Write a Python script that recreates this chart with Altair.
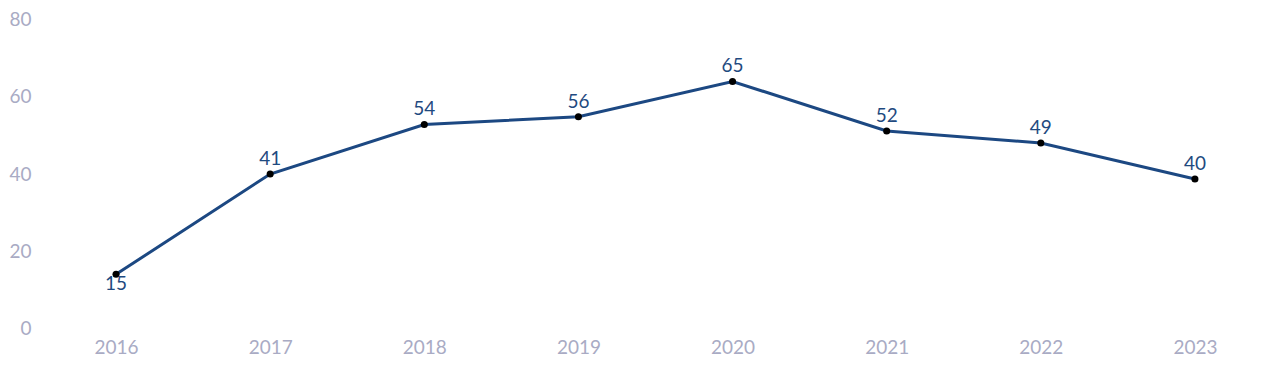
import altair as alt
import pandas as pd

years = ["2016", "2017", "2018", "2019", "2020", "2021", "2022", "2023"]
values = [14.1, 40.0, 52.8, 54.8, 63.9, 51.1, 48.0, 38.7]
labels = ["15", "41", "54", "56", "65", "52", "49", "40"]
below = [True, False, False, False, False, False, False, False]

df = pd.DataFrame({"year": years, "value": values, "label": labels, "below": below})

FONT = "Lato"
x = alt.X("year:O", title=None, sort=years,
          scale=alt.Scale(paddingOuter=0.5, paddingInner=0),
          axis=alt.Axis(labelAngle=0, domain=False, ticks=False, grid=False,
                        labelColor="#a9abc4", labelFontSize=19, labelFont=FONT,
                        labelPadding=10))
y = alt.Y("value:Q", title=None, scale=alt.Scale(domain=[0, 80], nice=False),
          axis=alt.Axis(values=[0, 20, 40, 60, 80], domain=False, ticks=False, grid=False,
                        labelColor="#a9abc4", labelFontSize=19, labelFont=FONT,
                        labelPadding=8))

base = alt.Chart(df).encode(x=x, y=y)
line = base.mark_line(color="#1c4882", strokeWidth=3)
pts = base.mark_circle(color="#000000", opacity=1, size=50)
above_txt = base.transform_filter("!datum.below").mark_text(
    font=FONT, fontSize=19, color="#1f4a80", baseline="alphabetic", dy=-9
).encode(text="label:N")
below_txt = base.transform_filter("datum.below").mark_text(
    font=FONT, fontSize=19, color="#1f4a80", baseline="top", dy=1
).encode(text="label:N")

chart = alt.layer(line, pts, above_txt, below_txt).properties(
    width=1234, height=310,
    autosize=alt.AutoSizeParams(type="none"),
    padding={"left": 31, "top": 11, "right": 0, "bottom": 45},
).configure_view(stroke=None)

chart.save("out.html", embed_options={"renderer": "svg", "actions": False})
